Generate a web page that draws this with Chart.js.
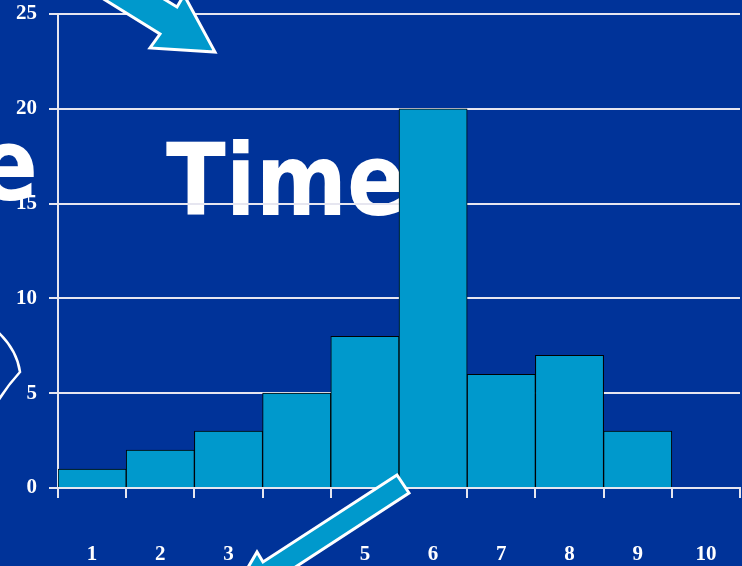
<!DOCTYPE html>
<html>
<head>
<meta charset="utf-8">
<script src="https://cdn.jsdelivr.net/npm/chart.js@4/dist/chart.umd.min.js"></script>
<style>
  html, body { margin: 0; padding: 0; background: #003399; }
  #wrap { width: 742px; height: 566px; }
</style>
</head>
<body>
<div id="wrap"><canvas id="hist"></canvas></div>
<script>
// data
const categories = ['1', '2', '3', '4', '5', '6', '7', '8', '9', '10'];
const counts = [1, 2, 3, 5, 8, 20, 6, 7, 3, 0];
const yTicks = [0, 5, 10, 15, 20, 25];

const BG = '#003399';
const BAR = '#0099CC';
const LINE = '#E6E6F0';

// slide stuff behind / on top of the chart (words, arrows, curve)
const slideDeco = {
    id: 'slideDeco',
    beforeDraw(chart) {
        const c = chart.ctx;
        c.save();
        c.fillStyle = BG;
        c.fillRect(0, 0, chart.width, chart.height);
        c.fillStyle = 'white';
        c.font = 'bold 99px "DejaVu Sans"';
        c.textBaseline = 'alphabetic';
        // "Time" squeezed a bit like the slide
        c.save();
        c.translate(166, 215);
        c.scale(0.885, 1);
        c.textAlign = 'left';
        c.fillText('Time', 0, 0);
        c.restore();
        // cut-off "e" at left edge
        c.save();
        c.translate(38, 200);
        c.scale(0.885, 1);
        c.textAlign = 'right';
        c.fillText('e', 0, 0);
        c.restore();
        c.restore();
    },
    afterDraw(chart) {
        const c = chart.ctx;
        c.save();
        c.lineJoin = 'miter';
        c.fillStyle = BAR;
        c.strokeStyle = 'white';
        c.lineWidth = 3;
        const poly = pts => {
            c.beginPath();
            c.moveTo(pts[0][0], pts[0][1]);
            for (let i = 1; i < pts.length; i++) c.lineTo(pts[i][0], pts[i][1]);
            c.closePath();
            c.fill();
            c.stroke();
        };
        // top arrow
        poly([[73, -20], [160, 34], [150, 48], [215, 52], [184, -5], [177, 7], [133, -20]]);
        // bottom arrow
        poly([[397, 475], [263, 562], [257, 552], [240, 581], [274, 581], [409, 493]]);
        // curve at the left
        c.lineWidth = 2.5;
        c.beginPath();
        c.moveTo(-2, 332);
        c.quadraticCurveTo(17, 350, 20, 372);
        c.quadraticCurveTo(8, 385, -2, 401);
        c.stroke();
        c.restore();
    }
};

const tickFont = { family: '"Liberation Serif", "Times New Roman", serif', weight: 'bold', size: 21 };

new Chart(document.getElementById('hist').getContext('2d'), {
    type: 'bar',
    data: {
        labels: categories,
        datasets: [{
            data: counts,
            backgroundColor: BAR,
            borderColor: 'black',
            borderWidth: 1,
            barPercentage: 1.0,
            categoryPercentage: 1.0
        }]
    },
    options: {
        responsive: true,
        maintainAspectRatio: false,
        animation: false,
        layout: { padding: { top: 14, right: 2, bottom: 0, left: 0 } },
        plugins: {
            legend: { display: false },
            tooltip: { enabled: false }
        },
        scales: {
            x: {
                offset: true,
                grid: { offset: true, drawOnChartArea: false, color: LINE, lineWidth: 2, tickLength: 10 },
                border: { color: LINE, width: 2 },
                ticks: { color: 'white', font: tickFont, padding: 44, maxRotation: 0 },
                afterFit: s => {
                    s.height = 78;
                    // big label padding shouldn't push the plot in from the sides
                    s.paddingLeft = 0;
                    s.paddingRight = 0;
                }
            },
            y: {
                min: yTicks[0],
                max: yTicks[yTicks.length - 1],
                ticks: { stepSize: yTicks[1] - yTicks[0], color: 'white', font: tickFont, padding: 12 },
                grid: { color: LINE, lineWidth: 2, tickLength: 9 },
                border: { color: LINE, width: 2 },
                afterFit: s => {
                    s.width = 58;
                    s.paddingTop = 0;
                    s.paddingBottom = 0;
                }
            }
        }
    },
    plugins: [slideDeco]
});
</script>
</body>
</html>
